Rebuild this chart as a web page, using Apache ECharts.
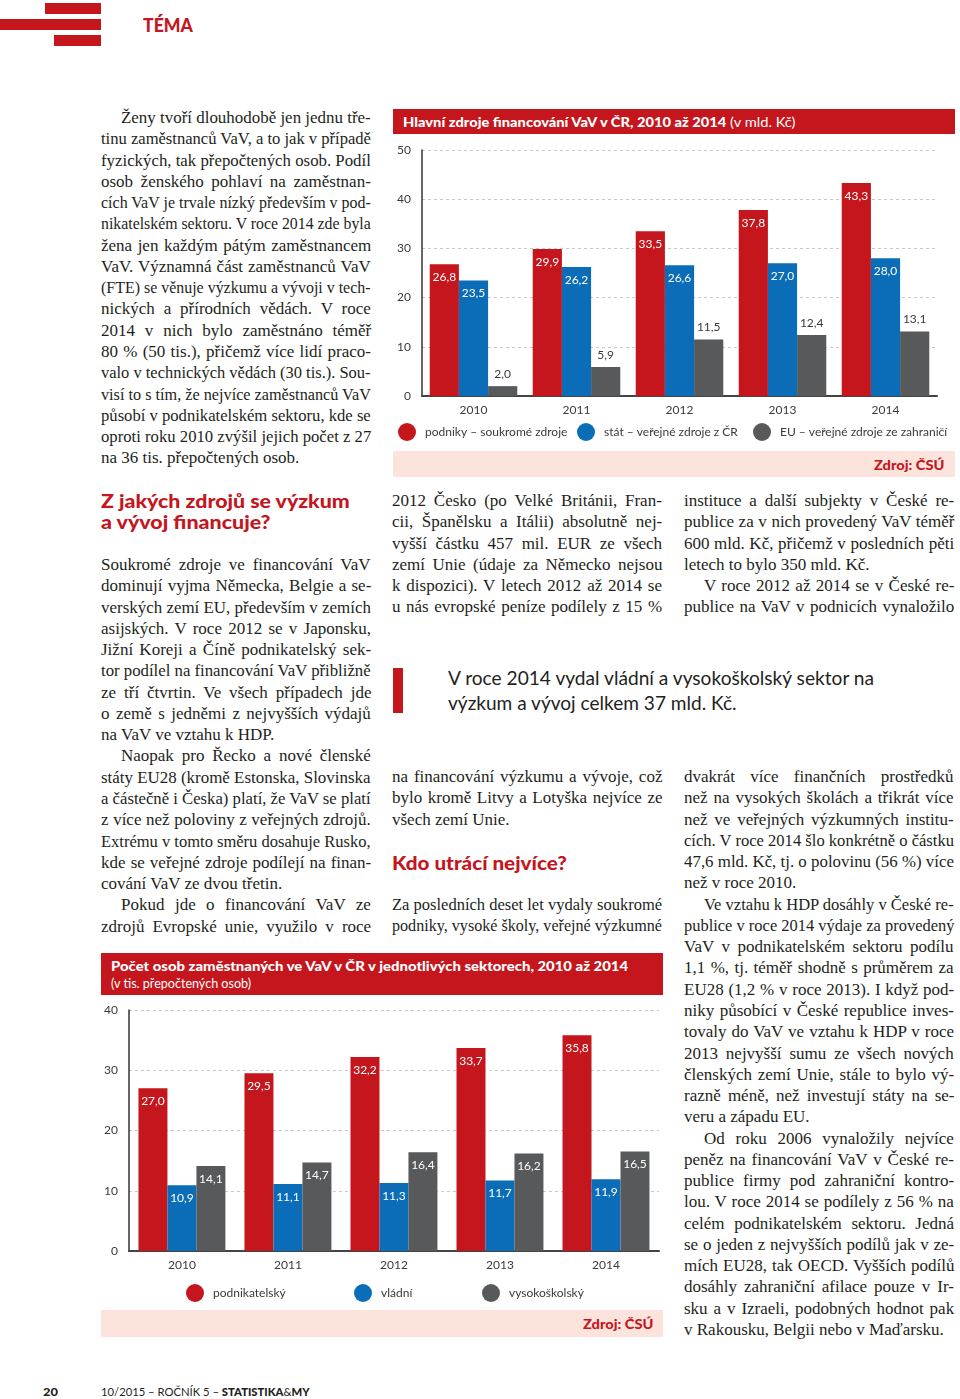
<!DOCTYPE html>
<html><head><meta charset="utf-8">
<script src="https://cdn.jsdelivr.net/npm/echarts@6/dist/echarts.min.js"></script>
<style>
html,body{margin:0;padding:0;background:#fff;}
#page{position:relative;width:960px;height:1399px;overflow:hidden;background:#fff;color:#231f20;}
.abs{position:absolute;}
.ln{position:absolute;white-space:nowrap;font-family:"Liberation Serif",serif;font-size:17px;color:#231f20;display:inline-block;transform-origin:0 50%;}
</style></head>
<body><div id="page"></div>
<script>
// ---------- DATA ----------
const years = ['2010','2011','2012','2013','2014'];
const fundPrivate = [26.8, 29.9, 33.5, 37.8, 43.3];
const fundState   = [23.5, 26.2, 26.6, 27.0, 28.0];
const fundEU      = [2.0, 5.9, 11.5, 12.4, 13.1];
const fundNames = ['podniky – soukromé zdroje','stát – veřejné zdroje z ČR','EU – veřejné zdroje ze zahraničí'];
const staffBusiness = [27.0, 29.5, 32.2, 33.7, 35.8];
const staffGov      = [10.9, 11.1, 11.3, 11.7, 11.9];
const staffHigher   = [14.1, 14.7, 16.4, 16.2, 16.5];
const staffNames = ['podnikatelský','vládní','vysokoškolský'];

const RED='#c4161c', BLUE='#0b6db7', GRAY='#58595b', PINK='#fce4dc', TXT='#231f20';
const page=document.getElementById('page');
const LH=21.27;

function box(x,y,w,h,bg){const d=document.createElement('div');d.className='abs';d.style.cssText+=`left:${x}px;top:${y}px;width:${w}px;height:${h}px;background:${bg};`;page.appendChild(d);return d;}
function txt(x,yc,html,css,fitW,mode){
  const s=document.createElement('span');s.className='ln';s.innerHTML=html;
  s.style.cssText+=css||'';
  page.appendChild(s);
  const h=s.offsetHeight;s.style.left=x+'px';s.style.top=(yc-h/2)+'px';
  if(fitW){const w=s.offsetWidth;
    if(mode==='justify'){
      if(w>fitW){s.style.transform=`scaleX(${fitW/w})`;}
      else{const n=(s.textContent.match(/ /g)||[]).length;if(n)s.style.wordSpacing=((fitW-w)/n)+'px';}
    } else if(mode==='fit'){s.style.transform=`scaleX(${fitW/w})`;}
    else if(w>fitW){s.style.transform=`scaleX(${fitW/w})`;}
  }
  return s;
}
// lines: '>' prefix = indent, '|' suffix = paragraph end (not justified)
function para(x,y0,W,lines){
  lines.forEach((l,i)=>{let ind=0,t=l,j=true;
    if(t[0]==='>'){ind=20;t=t.slice(1);} if(t.endsWith('|')){j=false;t=t.slice(0,-1);}
    txt(x+ind,y0+i*LH,t,'',W-ind,j?'justify':'shrink');});
}

// ---------- header ----------
box(45,3,56,11,RED);box(0,19,101,11,RED);box(54,35,47,11,RED);
txt(143,24,'TÉMA',`font-family:Lato,sans-serif;font-weight:900;font-size:19px;color:${RED};`,50,'fit');

// ---------- column 1 ----------
para(101,118,270,['>Ženy tvoří dlouhodobě jen jednu tře-','tinu zaměstnanců VaV, a to jak v případě','fyzických, tak přepočtených osob. Podíl','osob ženského pohlaví na zaměstnan-','cích VaV je trvale nízký především v pod-','nikatelském sektoru. V roce 2014 zde byla','žena jen každým pátým zaměstnancem','VaV. Významná část zaměstnanců VaV','(FTE) se věnuje výzkumu a vývoji v tech-','nických a přírodních vědách. V roce','2014 v nich bylo zaměstnáno téměř','80 % (50 tis.), přičemž více lidí praco-','valo v technických vědách (30 tis.). Sou-','visí to s tím, že nejvíce zaměstnanců VaV','působí v podnikatelském sektoru, kde se','oproti roku 2010 zvýšil jejich počet z 27','na 36 tis. přepočtených osob.|']);
const H=`font-family:Lato,sans-serif;font-weight:900;font-size:19px;color:${RED};`;
txt(101,500,'Z jakých zdrojů se výzkum',H,249,'fit');
txt(101,521,'a vývoj financuje?',H,170,'fit');
para(101,565,270,['Soukromé zdroje ve financování VaV','dominují vyjma Německa, Belgie a se-','verských zemí EU, především v zemích','asijských. V roce 2012 se v Japonsku,','Jižní Koreji a Číně podnikatelský sek-','tor podílel na financování VaV přibližně','ze tří čtvrtin. Ve všech případech jde','o země s jedněmi z nejvyšších výdajů','na VaV ve vztahu k HDP.|','>Naopak pro Řecko a nové členské','státy EU28 (kromě Estonska, Slovinska','a částečně i Česka) platí, že VaV se platí','z více než poloviny z veřejných zdrojů.','Extrému v tomto směru dosahuje Rusko,','kde se veřejné zdroje podílejí na finan-','cování VaV ze dvou třetin.|','>Pokud jde o financování VaV ze','zdrojů Evropské unie, využilo v roce']);

// ---------- column 2 ----------
para(392,501,270,['2012 Česko (po Velké Británii, Fran-','cii, Španělsku a Itálii) absolutně nej-','vyšší částku 457 mil. EUR ze všech','zemí Unie (údaje za Německo nejsou','k dispozici). V letech 2012 až 2014 se','u nás evropské peníze podílely z 15 %']);
box(393,668,10,45,RED);
const Q='font-family:Lato,sans-serif;font-size:19px;color:#231f20;';
txt(448,677,'V roce 2014 vydal vládní a vysokoškolský sektor na',Q,426,'fit');
txt(448,702,'výzkum a vývoj celkem 37 mld. Kč.',Q,289,'fit');
para(392,777,270,['na financování výzkumu a vývoje, což','bylo kromě Litvy a Lotyška nejvíce ze','všech zemí Unie.|']);
txt(392,862,'Kdo utrácí nejvíce?',H,175,'fit');
para(392,905,270,['Za posledních deset let vydaly soukromé','podniky, vysoké školy, veřejné výzkumné']);

// ---------- column 3 ----------
para(684,501,270,['instituce a další subjekty v České re-','publice za v nich provedený VaV téměř','600 mld. Kč, přičemž v posledních pěti','letech to bylo 350 mld. Kč.|','>V roce 2012 až 2014 se v České re-','publice na VaV v podnicích vynaložilo']);
para(684,777,270,['dvakrát více finančních prostředků','než na vysokých školách a třikrát více','než ve veřejných výzkumných institu-','cích. V roce 2014 šlo konkrétně o částku','47,6 mld. Kč, tj. o polovinu (56 %) více','než v roce 2010.|','>Ve vztahu k HDP dosáhly v České re-','publice v roce 2014 výdaje za provedený','VaV v podnikatelském sektoru podílu','1,1 %, tj. téměř shodně s průměrem za','EU28 (1,2 % v roce 2013). I když pod-','niky působící v České republice inves-','tovaly do VaV ve vztahu k HDP v roce','2013 nejvyšší sumu ze všech nových','členských zemí Unie, stále to bylo vý-','razně méně, než investují státy na se-','veru a západu EU.|','>Od roku 2006 vynaložily nejvíce','peněz na financování VaV v České re-','publice firmy pod zahraniční kontro-','lou. V roce 2014 se podílely z 56 % na','celém podnikatelském sektoru. Jedná','se o jeden z nejvyšších podílů jak v ze-','mích EU28, tak OECD. Vyšších podílů','dosáhly zahraniční afilace pouze v Ir-','sku a v Izraeli, podobných hodnot pak','v Rakousku, Belgii nebo v Maďarsku.|']);

// ---------- chart frames ----------
box(393,109,562,25,RED);
txt(403,121.5,'<b style="font-weight:900">Hlavní zdroje financování VaV v ČR, 2010 až 2014</b> (v mld. Kč)','font-family:Lato,sans-serif;font-size:14px;color:#fff;',392,'fit');
box(393,451,562,26,PINK);
const SRC=`font-family:Lato,sans-serif;font-weight:900;font-size:14px;color:${RED};`;
txt(874,464,'Zdroj: ČSÚ',SRC,70,'fit');

box(101,953,562,42,RED);
txt(111,965,'<b style="font-weight:900">Počet osob zaměstnaných ve VaV v ČR v jednotlivých sektorech, 2010 až 2014</b>','font-family:Lato,sans-serif;font-size:14px;color:#fff;',517,'fit');
txt(111,983,'(v tis. přepočtených osob)','font-family:Lato,sans-serif;font-size:13px;color:#fff;',140,'fit');
box(101,1310,562,27,PINK);
txt(583,1323,'Zdroj: ČSÚ',SRC,70,'fit');

// footer
txt(43,1391,'20','font-family:Lato,sans-serif;font-weight:900;font-size:12px;color:#231f20;',15,'fit');
txt(101,1391,'10/2015 – ROČNÍK 5 – <b style="font-weight:900">STATISTIKA</b>&amp;<b style="font-weight:900">MY</b>','font-family:Lato,sans-serif;font-size:12px;color:#231f20;',209,'fit');

// ---------- charts ----------
function mkDiv(x,y,w,h){const d=document.createElement('div');d.className='abs';d.style.cssText+=`left:${x}px;top:${y}px;width:${w}px;height:${h}px;`;page.appendChild(d);return d;}
const FONT='Lato';
const fmt=p=>p.value.toFixed(1).replace('.',',');
function barSeries(name,data,color,pos,lblColor,gap){
  return {name,type:'bar',data,barGap:'0%',barCategoryGap:gap,itemStyle:{color},
    label:{show:true,position:pos,distance:pos==='top'?6:7,color:lblColor,fontFamily:FONT,fontSize:12,formatter:fmt}};
}
function legends(names,colors,lefts,top){
  return names.map((n,i)=>({data:[n],left:lefts[i],top,icon:'circle',itemWidth:18,itemHeight:18,
    itemStyle:{color:colors[i]},textStyle:{color:'#3a3a3a',fontFamily:FONT,fontSize:12,padding:[0,0,0,4]},selectedMode:false}));
}
function axes(max){
  return {
    xAxis:{type:'category',data:years,axisTick:{show:false},axisLine:{lineStyle:{color:'#444',width:2}},
      axisLabel:{color:'#3a3a3a',fontFamily:FONT,fontSize:12,margin:8}},
    yAxis:{type:'value',min:0,max,interval:10,axisLine:{show:true,lineStyle:{color:'#333',width:1.5}},axisTick:{show:false},
      axisLabel:{color:'#3a3a3a',fontFamily:FONT,fontSize:12,margin:11},
      splitLine:{lineStyle:{color:'#c9c9c9',type:[3,3]}}}
  };
}
const c1=echarts.init(mkDiv(393,135,562,316),null,{renderer:'canvas'});
c1.setOption(Object.assign({animation:false,
  grid:{left:29,right:18,top:15,bottom:55},
  legend:legends(fundNames,[RED,BLUE,GRAY],[0,179,355],283),
  series:[barSeries(fundNames[0],fundPrivate,RED,'insideTop','#fff','15%'),
          barSeries(fundNames[1],fundState,BLUE,'insideTop','#fff','15%'),
          barSeries(fundNames[2],fundEU,GRAY,'top','#3a3a3a','15%')]},axes(50)));
const c2=echarts.init(mkDiv(101,995,562,315),null,{renderer:'canvas'});
c2.setOption(Object.assign({animation:false,
  grid:{left:26,right:4,top:15,bottom:59},
  legend:legends(staffNames,[RED,BLUE,GRAY],[80,248,376],284),
  series:[barSeries(staffNames[0],staffBusiness,RED,'insideTop','#fff','18%'),
          barSeries(staffNames[1],staffGov,BLUE,'insideTop','#fff','18%'),
          barSeries(staffNames[2],staffHigher,GRAY,'insideTop','#fff','18%')]},axes(40)));
</script></body></html>
